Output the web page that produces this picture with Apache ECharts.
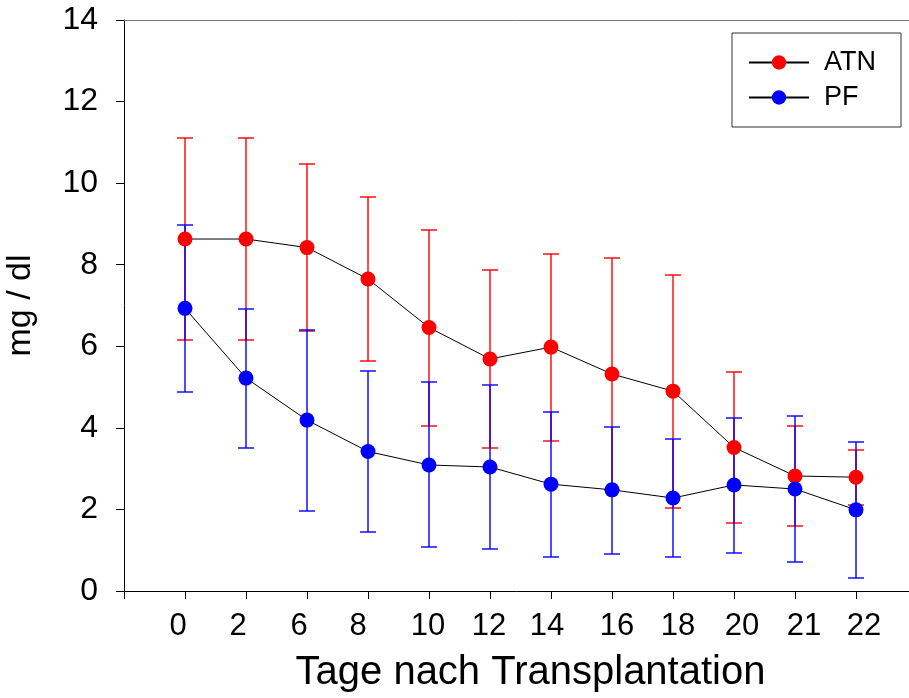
<!DOCTYPE html>
<html>
<head>
<meta charset="utf-8">
<script src="https://cdn.jsdelivr.net/npm/echarts@6/dist/echarts.min.js"></script>
<style>
html,body{margin:0;padding:0;background:#fff;}
#main{width:909px;height:698px;}
</style>
</head>
<body>
<div id="main"></div>
<script>
// ---- data ----
const categories = ['0','2','6','8','10','12','14','16','18','20','21','22'];
const atnMean  = [8.63, 8.63, 8.42, 7.65, 6.46, 5.69, 5.98, 5.32, 4.90, 3.52, 2.82, 2.79];
const atnUpper = [11.10, 11.10, 10.48, 9.67, 8.86, 7.87, 8.26, 8.16, 7.76, 5.37, 4.05, 3.46];
const atnLower = [6.16, 6.16, 6.37, 5.63, 4.04, 3.50, 3.68, 2.48, 2.03, 1.67, 1.59, 2.11];
const pfMean   = [6.93, 5.22, 4.19, 3.42, 3.09, 3.04, 2.62, 2.48, 2.28, 2.60, 2.50, 1.99];
const pfUpper  = [8.97, 6.92, 6.41, 5.39, 5.12, 5.05, 4.39, 4.02, 3.73, 4.24, 4.29, 3.65];
const pfLower  = [4.87, 3.51, 1.96, 1.45, 1.07, 1.03, 0.83, 0.91, 0.83, 0.93, 0.71, 0.32];
const yTicks = [0, 2, 4, 6, 8, 10, 12, 14];
const seriesNames = ['ATN', 'PF'];

// ---- style ----
const FONT = 'Liberation Sans, Arial, sans-serif';
const labelShift = [-7, -8, -8, -10, -1, -1, -4, 5, 5, 8, 9, 8]; // visual nudges of x labels
const rich = {};
labelShift.forEach((s, i) => {
  rich['r' + i] = {
    fontSize: 31, fontFamily: FONT, color: '#000',
    padding: s < 0 ? [0, -2 * s, 0, 0] : [0, 0, 0, 2 * s]
  };
});

const pos = categories.map((c, i) => i + 1);
const lineData = (arr) => arr.map((v, i) => [pos[i], v]);
const errData = (lo, hi) => lo.map((v, i) => [pos[i], v, hi[i]]);

function errRender(color) {
  return function (params, api) {
    const x = api.value(0), lo = api.value(1), hi = api.value(2);
    const a = api.coord([x, hi]), b = api.coord([x, lo]);
    const cx = Math.round(a[0]);
    const yh = Math.round(a[1]), yl = Math.round(b[1]);
    const w = 8;
    const mk = () => ({ stroke: color, fill: null, lineWidth: 1.4 });
    return {
      type: 'group',
      children: [
        { type: 'line', shape: { x1: cx, y1: yh, x2: cx, y2: yl }, style: mk() },
        { type: 'line', shape: { x1: cx - w, y1: yh, x2: cx + w, y2: yh }, style: mk() },
        { type: 'line', shape: { x1: cx - w, y1: yl, x2: cx + w, y2: yl }, style: mk() }
      ]
    };
  };
}

const chart = echarts.init(document.getElementById('main'), null, { renderer: 'canvas' });
chart.setOption({
  animation: false,
  backgroundColor: '#fff',
  textStyle: { fontFamily: FONT },
  grid: { left: 124, right: -8, top: 20, bottom: 107, containLabel: false, outerBoundsMode: 'none' },
  legend: {
    data: seriesNames,
    orient: 'vertical',
    left: 732, top: 33,
    padding: [16, 25, 16, 16],
    itemGap: 8,
    itemWidth: 60,
    itemHeight: 18,
    borderColor: '#333',
    borderWidth: 1,
    backgroundColor: '#fff',
    textStyle: { fontSize: 27, fontFamily: FONT, color: '#000', padding: [0, 0, 0, 10] }
  },
  xAxis: [{
    type: 'value', min: 0, max: 13, interval: 1,
    position: 'bottom',
    name: 'Tage nach Transplantation',
    nameLocation: 'middle',
    nameGap: 62,
    nameTextStyle: { fontSize: 40, fontFamily: FONT, color: '#000', padding: [0, 0, 0, 20] },
    axisLine: { show: true, onZero: false, lineStyle: { color: '#000', width: 1 } },
    axisTick: { show: true, length: 8, lineStyle: { color: '#000' } },
    axisLabel: {
      margin: 20,
      rich: rich,
      formatter: function (v) {
        const i = Math.round(v) - 1;
        return (i >= 0 && i < categories.length) ? '{r' + i + '|' + categories[i] + '}' : '';
      }
    },
    splitLine: { show: false }
  }, {
    type: 'value', min: 0, max: 13, interval: 1,
    position: 'top',
    axisLine: { show: true, onZero: false, lineStyle: { color: '#777', width: 1 } },
    axisTick: { show: false }, axisLabel: { show: false }, splitLine: { show: false }
  }],
  yAxis: {
    type: 'value', min: yTicks[0], max: yTicks[yTicks.length - 1], interval: 2,
    name: 'mg / dl',
    nameLocation: 'middle',
    nameGap: 86,
    nameTextStyle: { fontSize: 34, fontFamily: FONT, color: '#000' },
    axisLine: { show: true, onZero: false, lineStyle: { color: '#000', width: 1 } },
    axisTick: { show: true, length: 8, lineStyle: { color: '#000' } },
    axisLabel: { margin: 26, fontSize: 32, fontFamily: FONT, color: '#000' },
    splitLine: { show: false }
  },
  series: [
    {
      name: 'ATN err', type: 'custom', renderItem: errRender('#ff0000'),
      itemStyle: { color: '#ff0000' },
      data: errData(atnLower, atnUpper), encode: { x: 0, y: [1, 2] }, z: 1, silent: true
    },
    {
      name: 'PF err', type: 'custom', renderItem: errRender('#0000ff'),
      itemStyle: { color: '#0000ff' },
      data: errData(pfLower, pfUpper), encode: { x: 0, y: [1, 2] }, z: 2, silent: true
    },
    {
      name: seriesNames[0], type: 'line', data: lineData(atnMean),
      symbol: 'circle', symbolSize: 15, showAllSymbol: true,
      lineStyle: { color: '#000', width: 1 },
      itemStyle: { color: '#ff0000' }, z: 3
    },
    {
      name: seriesNames[1], type: 'line', data: lineData(pfMean),
      symbol: 'circle', symbolSize: 15, showAllSymbol: true,
      lineStyle: { color: '#000', width: 1 },
      itemStyle: { color: '#0000ff' }, z: 4
    }
  ]
});
</script>
</body>
</html>
